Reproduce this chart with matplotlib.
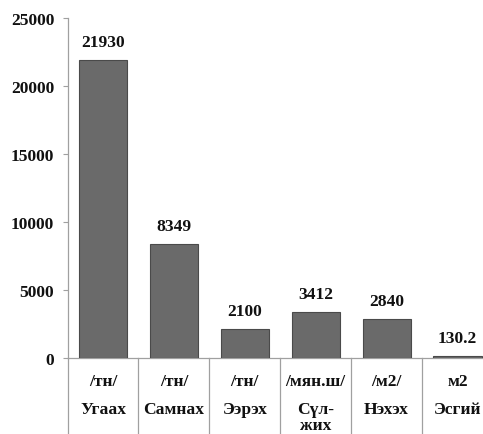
import matplotlib
matplotlib.use("Agg")
import matplotlib.pyplot as plt
import matplotlib.transforms as mtransforms

units = ["/тн/", "/тн/", "/тн/", "/мян.ш/", "/м2/", "м2"]
names = ["Угаах", "Самнах", "Ээрэх", "Сүл-\nжих", "Нэхэх", "Эсгий"]
values = [21930, 8349, 2100, 3412, 2840, 130.2]
value_labels = ["21930", "8349", "2100", "3412", "2840", "130.2"]
yticks = [0, 5000, 10000, 15000, 20000, 25000]

plt.rcParams['font.family'] = ['Liberation Serif', 'DejaVu Serif']
plt.rcParams['font.weight'] = 'bold'

fig = plt.figure(figsize=(4.83, 4.35), dpi=100)
W, H = 483, 435
left_px, right_px = 67.5, 493.0
top_px, bot_px = 19.0, 359.0
ax = fig.add_axes([left_px / W, (H - bot_px) / H, (right_px - left_px) / W, (bot_px - top_px) / H])

x = list(range(len(values)))
ax.bar(x, values, width=0.68, color='#6a6a6a', edgecolor='#4a4a4a', linewidth=0.8, zorder=3)

for xi, v, lab in zip(x, values, value_labels):
    ax.annotate(lab, (xi, v), xytext=(0, 13), textcoords='offset points',
                ha='center', va='center', fontsize=12.6, fontweight='bold', color='#111111')

ax.set_xlim(-0.5, len(values) - 0.5)
ax.set_ylim(0, 25000)
ax.set_yticks(yticks)
ax.set_yticklabels([str(t) for t in yticks], fontsize=12.6, fontweight='bold', color='#111111')
ax.tick_params(axis='y', length=3.5, width=0.8, color='#a0a0a0', pad=6)
ax.set_xticks([])

for s in ['top', 'right']:
    ax.spines[s].set_visible(False)
for s in ['left', 'bottom']:
    ax.spines[s].set_color('#a0a0a0')
    ax.spines[s].set_linewidth(0.9)

trans = mtransforms.blended_transform_factory(ax.transData, ax.transAxes)
ax_h = bot_px - top_px
def yax(px):
    return -(px - bot_px) / ax_h

for k in range(len(values) + 1):
    ax.plot([k - 0.5, k - 0.5], [0, yax(440)], transform=trans, color='#a0a0a0',
            linewidth=0.9, clip_on=False)

for xi, u, n in zip(x, units, names):
    ax.text(xi, yax(382), u, transform=trans, ha='center', va='center',
            fontsize=12.6, fontweight='bold', color='#111111')
    parts = n.split("\n")
    for j, p in enumerate(parts):
        ax.text(xi, yax(410 + 16 * j), p, transform=trans, ha='center', va='center',
                fontsize=12.6, fontweight='bold', color='#111111')

fig.savefig("out.png", dpi=100)
